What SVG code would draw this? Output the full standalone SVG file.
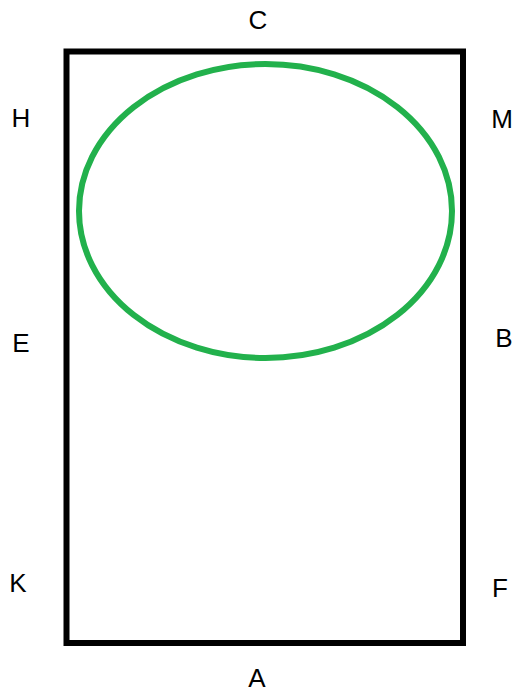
<svg xmlns="http://www.w3.org/2000/svg" width="516" height="698" viewBox="0 0 516 698">
<style>
.lbl{font-family:"Liberation Sans",Arial,sans-serif;font-size:26px;fill:#000;text-anchor:middle}
</style>
<rect width="516" height="698" fill="#fff"/>
<g id="frame"><rect x="66.5" y="51.5" width="396.5" height="591.5" fill="none" stroke="#000" stroke-width="6"/></g>
<g id="ellipse"><ellipse cx="265.5" cy="211" rx="186.5" ry="147" fill="none" stroke="#22b14c" stroke-width="6"/></g>
<g id="labels">
<text class="lbl" x="258" y="29">C</text>
<text class="lbl" x="21" y="127">H</text>
<text class="lbl" x="502" y="128">M</text>
<text class="lbl" x="21" y="352">E</text>
<text class="lbl" x="504" y="347">B</text>
<text class="lbl" x="18" y="592">K</text>
<text class="lbl" x="500" y="597">F</text>
<text class="lbl" x="257" y="687">A</text>
</g>
</svg>
